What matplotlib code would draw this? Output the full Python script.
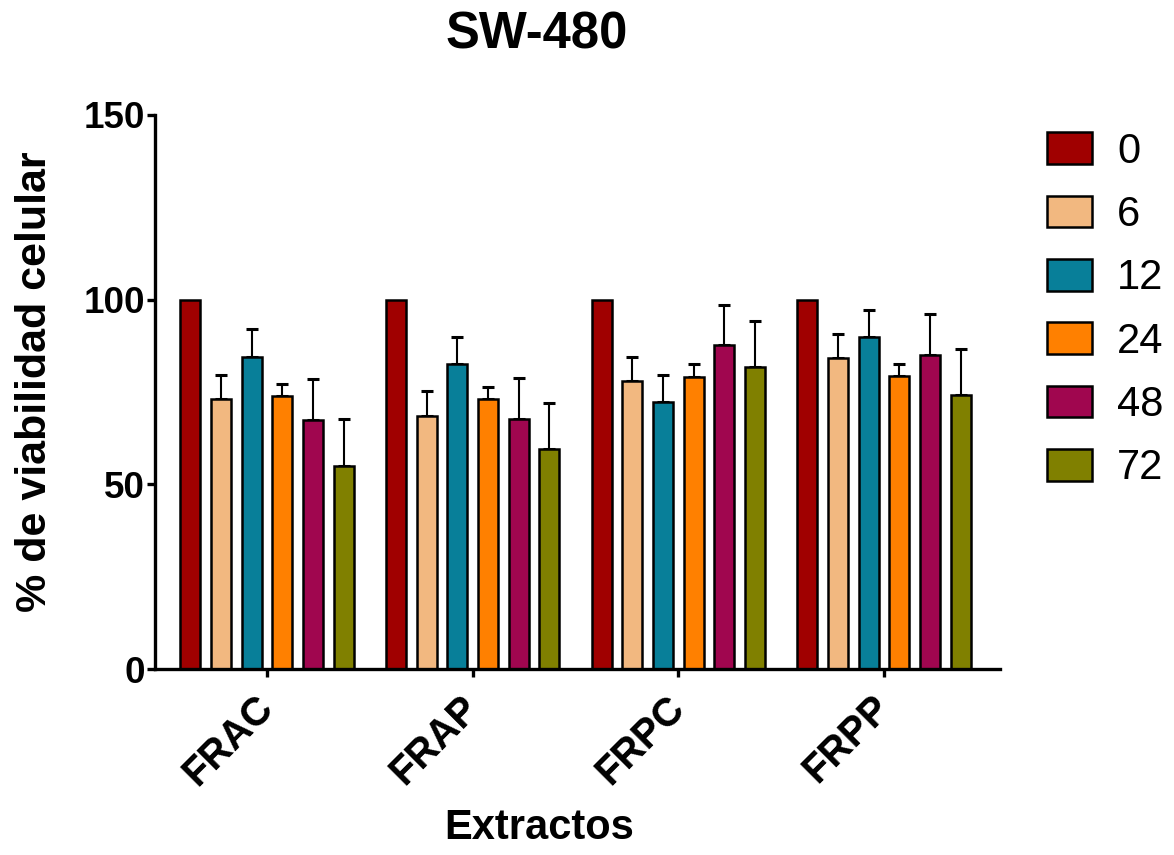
import matplotlib
matplotlib.use("Agg")
import matplotlib.pyplot as plt
import numpy as np

plt.rcParams['font.family'] = ['Liberation Sans', 'DejaVu Sans']

# viability data per extract and exposure time (h)
extracts = ["FRAC", "FRAP", "FRPC", "FRPP"]
times = ["0", "6", "12", "24", "48", "72"]
means = {
    "0":  [100.0, 100.0, 100.0, 100.0],
    "6":  [73.2, 68.6, 77.9, 84.1],
    "12": [84.6, 82.5, 72.4, 89.9],
    "24": [73.8, 73.1, 79.2, 79.3],
    "48": [67.5, 67.8, 87.6, 85.1],
    "72": [55.1, 59.6, 81.8, 74.3],
}
errors = {
    "0":  [0.0, 0.0, 0.0, 0.0],
    "6":  [6.5, 6.8, 6.6, 6.7],
    "12": [7.4, 7.5, 7.3, 7.4],
    "24": [3.4, 3.3, 3.5, 3.4],
    "48": [10.9, 10.9, 11.0, 11.1],
    "72": [12.5, 12.5, 12.4, 12.3],
}
colors = ["#A00000", "#F2B880", "#087F99", "#FF8000", "#A0064F", "#808000"]

fig = plt.figure(figsize=(11.74, 8.55), dpi=100)
ax = fig.add_axes([0.132, 0.2175, 0.72, 0.648])

x = np.arange(len(extracts))
step = 0.149
width = 0.097
for i, t in enumerate(times):
    pos = x + (i - 2.5) * step
    ax.bar(pos, means[t], width, color=colors[i], edgecolor="black",
           linewidth=1.8, label=t, zorder=2)
    if any(errors[t]):
        ax.errorbar(pos, means[t], yerr=[np.zeros(len(extracts)), errors[t]],
                    fmt="none", ecolor="black", elinewidth=1.5, capsize=4,
                    capthick=2.2, zorder=1)

ax.set_xlim(-0.545, 3.565)
ax.set_ylim(0, 150)
ax.set_yticks([0, 50, 100, 150])

# tick marks at group centres, labels on slightly shifted minor ticks
ax.set_xticks(x)
ax.set_xticklabels([])
ax.set_xticks(x - 0.065, minor=True)
ax.set_xticklabels(extracts, minor=True, rotation=45, ha="right",
                   rotation_mode="anchor", fontsize=28.5, fontweight="bold")
ax.tick_params(axis="x", which="minor", length=0, pad=14)

for lab in ax.get_yticklabels():
    lab.set_fontsize(26.5)
    lab.set_fontweight("bold")

for side in ["top", "right"]:
    ax.spines[side].set_visible(False)
for side in ["left", "bottom"]:
    ax.spines[side].set_linewidth(2.4)
ax.tick_params(axis="both", which="major", width=2.4, length=6,
               direction="out")
ax.tick_params(axis="y", pad=1)

fig.text(0.030, 0.553, "% de viabilidad celular", fontsize=31,
         fontweight="bold", rotation=90, ha="center", va="center")
fig.text(0.459, 0.031, "Extractos", fontsize=30, fontweight="bold",
         ha="center", va="center")
fig.text(0.457, 0.959, "SW-480", fontsize=36.5, fontweight="bold",
         ha="center", va="center")

ax.legend(loc="upper left", bbox_to_anchor=(0.892, 0.846),
          bbox_transform=fig.transFigure, frameon=False, fontsize=30,
          handlelength=1.08, handleheight=0.8, handletextpad=0.6,
          labelspacing=0.56, borderpad=0, borderaxespad=0)

fig.savefig("out.png", dpi=100)
